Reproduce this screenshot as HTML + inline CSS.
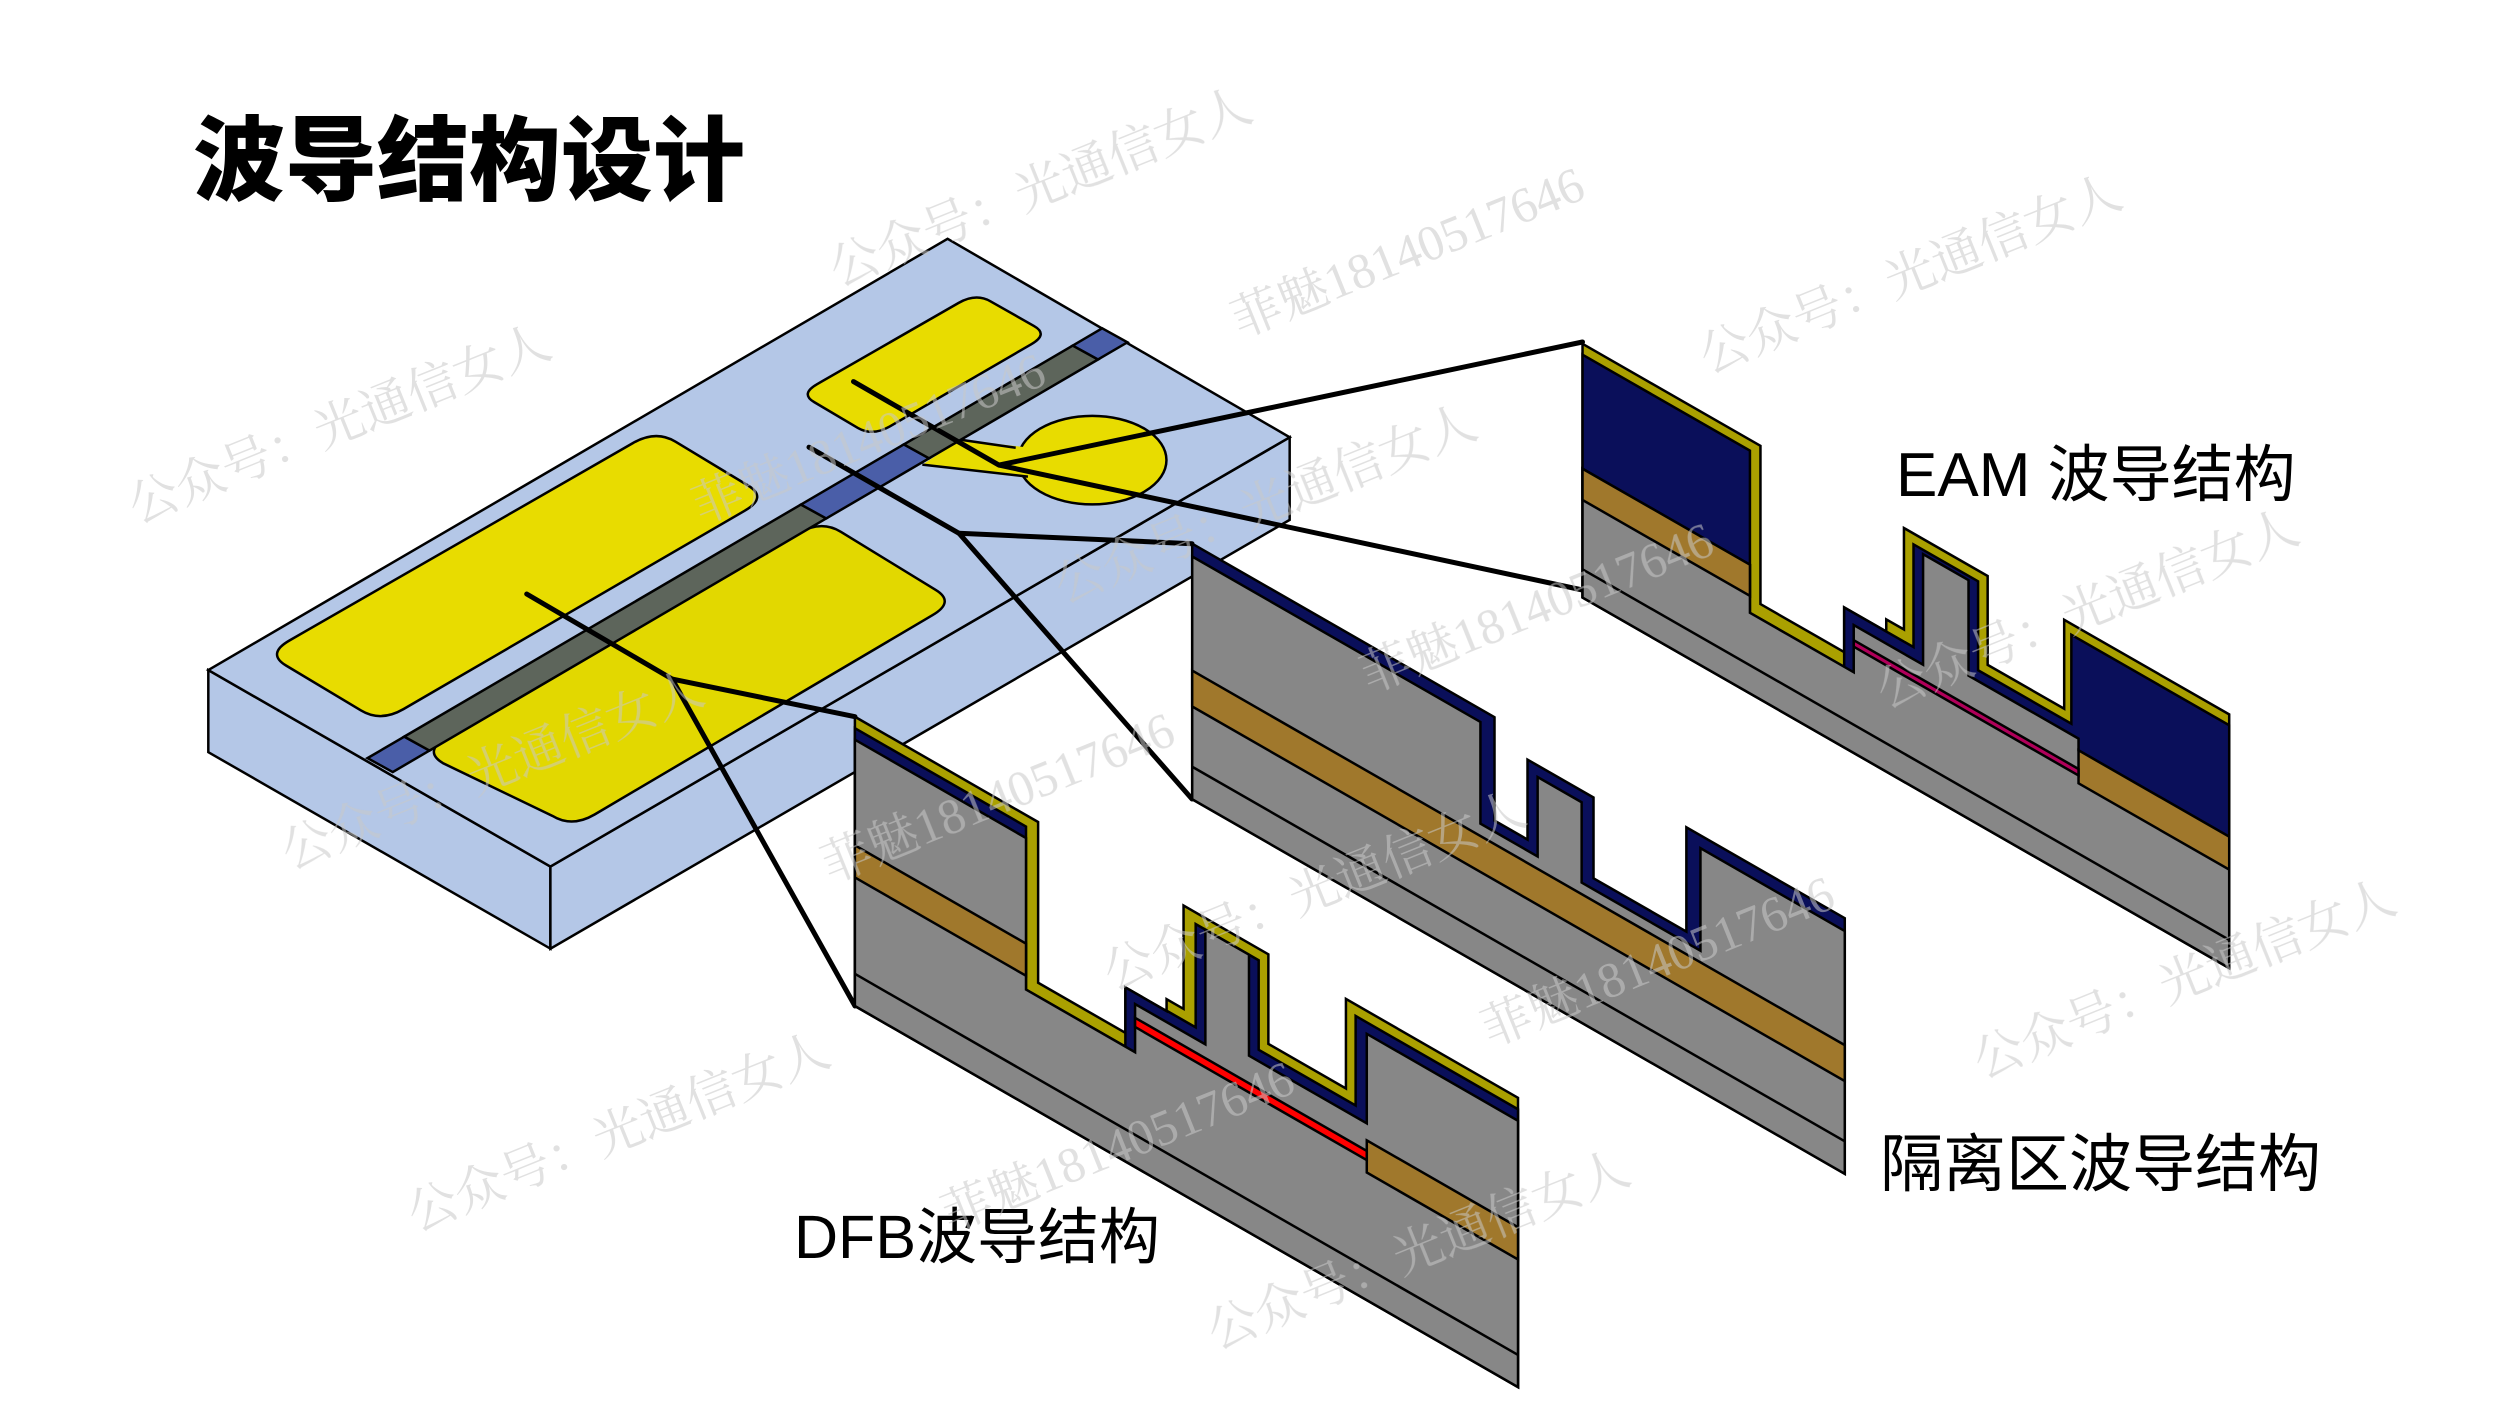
<!DOCTYPE html>
<html><head><meta charset="utf-8"><style>
html,body{margin:0;padding:0;background:#fff;}
svg{display:block}
.o{stroke:#000;stroke-width:2.5;vector-effect:non-scaling-stroke;stroke-linejoin:miter}
.ln{stroke:#000;stroke-width:5;fill:none;stroke-linecap:round}
.wm{font-family:"Liberation Serif","Noto Serif CJK SC",serif;font-size:50px;fill:#c8c8c8;opacity:0.55}
.lb{font-family:"Liberation Sans","Noto Sans CJK SC",sans-serif;fill:#000}
</style></head><body>
<svg width="2500" height="1406" viewBox="0 0 2500 1406" xmlns="http://www.w3.org/2000/svg">
<rect width="2500" height="1406" fill="#fff"/>
<text x="193" y="193" class="lb" style="font-family:'Noto Sans CJK SC','WenQuanYi Zen Hei',sans-serif;font-weight:900;font-size:92px">波导结构设计</text>

<!-- chip -->
<g transform="translate(180,200) scale(0.76529,0.49744)">
<polygon class="o" fill="#b4c7e7" points="37,945 484,1340 484,1505 37,1110"/>
<polygon class="o" fill="#b4c7e7" points="484,1340 1450,477 1450,643 484,1505"/>
<polygon class="o" fill="#b4c7e7" points="37,945 1003,78 1450,477 484,1340"/>
<path class="o" fill="#e8dc00" d="M143,885.5 L592,488.5 Q622,462 647.5,485.8 L742.5,574.2 Q768,598 738,624.5 L292,1023.5 Q262,1050 236.5,1026.2 L138.5,935.8 Q113,912 143,885.5 Z"/>
<path class="o" fill="#e2d800" d="M347.8,1081.3 L808.2,669.7 Q838,643 863.5,667 L987.5,784 Q1013,808 983.2,834.7 L541.8,1235.3 Q512,1262 486.5,1238 L343.5,1132 Q318,1108 347.8,1081.3 Z"/>
<path class="o" fill="#e8dc00" d="M832.5,370.2 L1017.5,206.8 Q1040,187 1059,203.6 L1116,253.4 Q1135,270 1112.5,289.8 L927.5,455.2 Q905,475 886,458.4 L829,406.6 Q810,390 832.5,370.2 Z"/>
<ellipse class="o" fill="#e8dc00" cx="1192" cy="523" rx="97" ry="89"/>
<polygon fill="#e8dc00" points="1020,482 1105,497 1112,556 970,532"/>
<polyline class="o" fill="none" points="1020,482 1092,498"/>
<polyline class="o" fill="none" points="970,532 1108,556"/>
<polygon class="o" fill="#4a5ea8" points="245,1122 293,1078.8 326,1106.8 278,1150"/>
<polygon class="o" fill="#5d655b" points="293,1078.8 811.4,612.2 844.4,640.2 326,1106.8"/>
<polygon class="o" fill="#4a5ea8" points="811.4,612.2 945.8,491.3 978.8,519.3 844.4,640.2"/>
<polygon class="o" fill="#5d655b" points="945.8,491.3 1166.6,292.6 1199.6,320.6 978.8,519.3"/>
<polygon class="o" fill="#4a5ea8" points="1166.6,292.6 1205,258 1238,286 1199.6,320.6"/>
</g>

<!-- connectors -->
<polyline class="ln" points="526.7,594 672.1,679"/>
<polyline class="ln" points="855,716.7 672.1,679 855,1006"/>
<polyline class="ln" points="809,447.2 959,533.3"/>
<polyline class="ln" points="1192,543.7 959,533.3 1192,799"/>
<polyline class="ln" points="853.5,381.6 998.9,465.1"/>
<polyline class="ln" points="1582.5,342 998.9,465.1 1582.5,590"/>

<!-- EAM -->
<g transform="translate(1550,320) scale(0.47831,0.43365) matrix(1,0.632,0,1,68,55)">
<polygon class="o" fill="#aaa000" points="0,0 372,0 372,365 547,365 547,262 635,262 635,234 672,234 672,0 847,0 847,205 1007,205 1007,0 1352,0 1352,585 0,585"/>
<polygon class="o" fill="#0a0f5a" points="0,25 350,25 350,399 547,399 547,262 692,262 692,25 827,25 827,230 1022,230 1022,25 1352,25 1352,585 0,585"/>
<polygon class="o" fill="#878787" points="0,288 350,288 350,399 567,399 567,290 712,290 712,35 807,35 807,255 1037,255 1037,282 1352,282 1352,585 0,585"/>
<polygon class="o" fill="#a0782c" points="0,288 350,288 350,360 0,360"/>
<polygon class="o" fill="#a0782c" points="1037,282 1352,282 1352,358 1037,358"/>
<polygon class="o" fill="#b0005a" points="567,325 1037,325 1037,340 567,340"/>
<polyline class="o" fill="none" points="0,520 1352,520"/>
</g>

<!-- Isolation -->
<g transform="translate(1190,530) scale(0.44004,0.42735) matrix(1,0.591,0,1,5,32)">
<polygon class="o" fill="#0a0f5a" points="0,0 687,0 687,242 762,242 762,55 912,55 912,244 1123,244 1123,0 1483,0 1483,598 0,598"/>
<polygon class="o" fill="#878787" points="0,30 655,30 655,268 785,268 785,82 885,82 885,270 1155,270 1155,30 1483,30 1483,598 0,598"/>
<polygon class="o" fill="#a0782c" points="0,297 1483,297 1483,381 0,381"/>
<polyline class="o" fill="none" points="0,522 1483,522"/>
</g>

<!-- DFB -->
<g transform="translate(820,680) scale(0.48473,0.45914) matrix(1,0.6067,0,1,72,80)">
<polygon class="o" fill="#aaa000" points="0,0 378,0 378,350 558,350 558,251 643,251 643,225 678,225 678,0 853,0 853,195 1013,195 1013,0 1368,0 1368,630 0,630"/>
<polygon class="o" fill="#0a0f5a" points="0,25 353,25 353,380 558,380 558,251 643,251 643,250 703,250 703,25 833,25 833,220 1033,220 1033,25 1368,25 1368,630 0,630"/>
<polygon class="o" fill="#878787" points="0,50 353,50 353,380 578,380 578,275 723,275 723,25 813,25 813,245 1056,245 1056,50 1368,50 1368,630 0,630"/>
<polygon class="o" fill="#a0782c" points="0,280 353,280 353,350 0,350"/>
<polygon class="o" fill="#a0782c" points="1056,282 1368,282 1368,352 1056,352"/>
<polygon class="o" fill="#ff0000" points="578,305 1056,305 1056,325 578,325"/>
<polyline class="o" fill="none" points="0,560 1368,560"/>
</g>

<!-- labels -->
<text x="1896" y="496" class="lb" font-size="62">EAM 波导结构</text>
<text x="1880" y="1186" class="lb" font-size="63">隔离区波导结构</text>
<text x="794" y="1258" class="lb" font-size="61">DFB波导结构</text>

<!-- watermarks -->
<g class="wm">
<text transform="translate(838,287) rotate(-22)">公众号：光通信女人</text>
<text transform="translate(1240,338) rotate(-22)">菲魅18140517646</text>
<text transform="translate(1708,374) rotate(-22)">公众号：光通信女人</text>
<text transform="translate(137,524) rotate(-22)">公众号：光通信女人</text>
<text transform="translate(701,524) rotate(-22)">菲魅18140517646</text>
<text transform="translate(1063,604) rotate(-22)">公众号：光通信女人</text>
<text transform="translate(1369,693) rotate(-22)">菲魅18140517646</text>
<text transform="translate(1885,709) rotate(-22)">公众号：光通信女人</text>
<text transform="translate(290,870) rotate(-22)">公众号：光通信女人</text>
<text transform="translate(830,883) rotate(-22)">菲魅18140517646</text>
<text transform="translate(1112,991) rotate(-22)">公众号：光通信女人</text>
<text transform="translate(1490,1047) rotate(-22)">菲魅18140517646</text>
<text transform="translate(1982,1079) rotate(-22)">公众号：光通信女人</text>
<text transform="translate(416,1232) rotate(-22)">公众号：光通信女人</text>
<text transform="translate(950,1232) rotate(-22)">菲魅18140517646</text>
<text transform="translate(1216,1350) rotate(-22)">公众号：光通信女人</text>
</g>
</svg>
</body></html>
